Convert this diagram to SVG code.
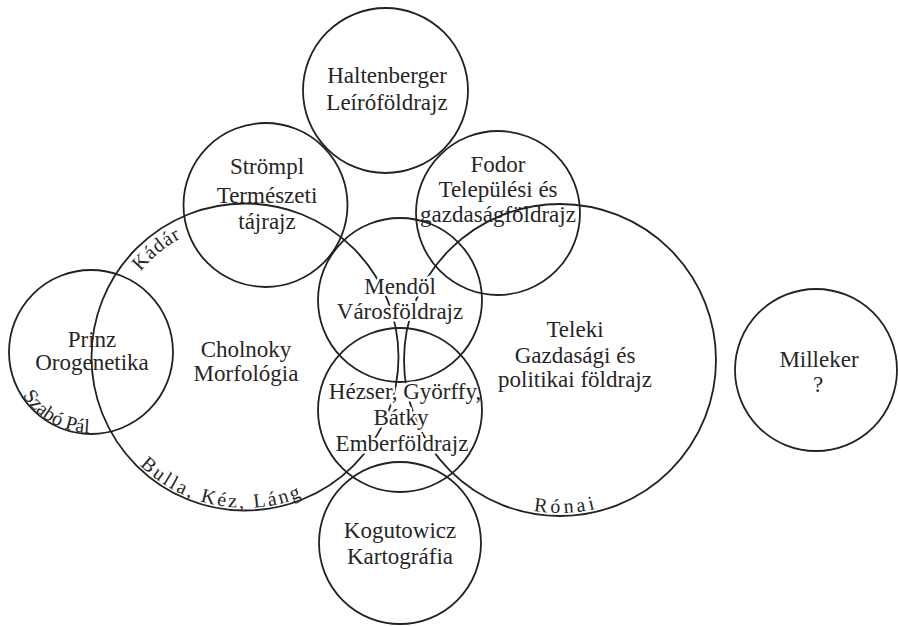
<svg xmlns="http://www.w3.org/2000/svg" width="898" height="626" viewBox="0 0 898 626">
<style>
  .c { fill: none; stroke: #222222; stroke-width: 1.8; }
  .t { font-family: "Liberation Serif", "Times New Roman", serif; font-size: 23px; fill: #262626; text-anchor: middle; }
  .h { stroke: #ffffff; stroke-width: 5; stroke-linejoin: round; paint-order: stroke; }
  .a { font-family: "Liberation Serif", "Times New Roman", serif; font-size: 20px; fill: #262626; text-anchor: middle; }
</style>
<defs>
  <path id="pKadar" d="M118.6,309.5 A135,135 0 0 1 223,223.8"/>
  <path id="pBulla" d="M120.3,442.1 A151,151 0 0 0 330.1,481.7"/>
  <path id="pSzabo" d="M15.2,380.5 A81,81 0 0 0 105.9,431.6"/>
  <path id="pRonai" d="M488.9,495.5 A153,153 0 0 0 641.8,489.3"/>
</defs>
<rect width="898" height="626" fill="#ffffff"/>
<g id="connectors"></g>
<g id="cholnoky">
  <circle class="c" cx="245" cy="357" r="153.5"/>
  <text class="t" x="246" y="357">Cholnoky</text>
  <text class="t" x="246" y="381">Morfológia</text>
  <text class="a" font-size="22" letter-spacing="1"><textPath href="#pKadar" startOffset="50%">Kádár</textPath></text>
  <text class="a" letter-spacing="2.5"><textPath href="#pBulla" startOffset="50%">Bulla, Kéz, Láng</textPath></text>
</g>
<g id="teleki">
  <circle class="c" cx="560" cy="360" r="156"/>
  <text class="t" x="575" y="337">Teleki</text>
  <text class="t" x="575" y="363">Gazdasági és</text>
  <text class="t" x="575" y="387">politikai földrajz</text>
  <text class="a" letter-spacing="3.5"><textPath href="#pRonai" startOffset="50%">Rónai</textPath></text>
</g>
<g id="haltenberger">
  <circle class="c" cx="385.5" cy="90.5" r="82.5"/>
  <text class="t" x="387" y="83">Haltenberger</text>
  <text class="t" x="387" y="110">Leíróföldrajz</text>
</g>
<g id="strompl">
  <circle class="c" cx="265.5" cy="205" r="82"/>
  <text class="t" x="267" y="174">Strömpl</text>
  <text class="t" x="267" y="203">Természeti</text>
  <text class="t" x="267" y="229">tájrajz</text>
</g>
<g id="fodor">
  <circle class="c" cx="498" cy="213" r="82"/>
  <text class="t" x="498" y="172">Fodor</text>
  <text class="t" x="498" y="197">Települési és</text>
  <text class="t" x="498" y="222">gazdaságföldrajz</text>
</g>
<g id="prinz">
  <circle class="c" cx="91" cy="352" r="82"/>
  <text class="t" x="92" y="347">Prinz</text>
  <text class="t" x="92" y="370">Orogenetika</text>
  <text class="a" font-size="22"><textPath href="#pSzabo" startOffset="50%">Szabó Pál</textPath></text>
</g>
<g id="milleker">
  <circle class="c" cx="816" cy="370" r="81"/>
  <text class="t" x="819" y="367">Milleker</text>
  <text class="t" x="818" y="392">?</text>
</g>
<g id="mendol">
  <text class="t h" x="400" y="294">Mendöl</text>
  <text class="t h" x="400" y="319">Városföldrajz</text>
  <circle class="c" cx="400" cy="300" r="82"/>
</g>
<g id="hezser">
  <text class="t h" x="405" y="399">Hézser, Györffy,</text>
  <text class="t h" x="401" y="425">Bátky</text>
  <text class="t h" x="402" y="451">Emberföldrajz</text>
  <circle class="c" cx="400" cy="410" r="82"/>
</g>
<g id="kogutowicz">
  <circle class="c" cx="400" cy="543" r="81"/>
  <text class="t" x="400" y="538">Kogutowicz</text>
  <text class="t" x="400" y="564">Kartográfia</text>
</g>
</svg>
